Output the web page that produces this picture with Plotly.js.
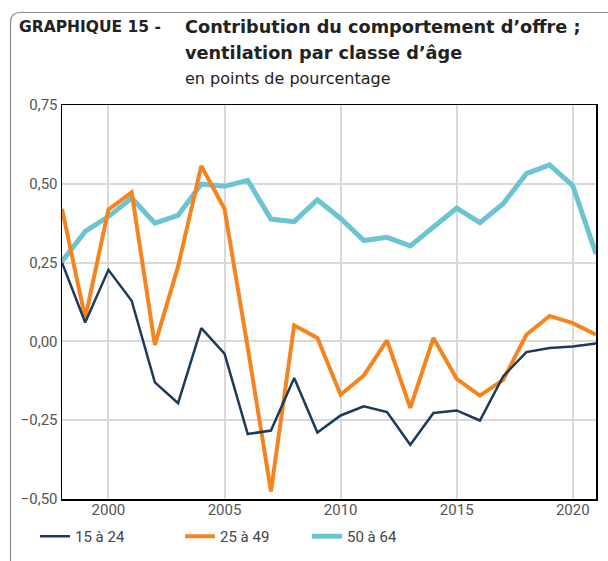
<!DOCTYPE html>
<html>
<head>
<meta charset="utf-8">
<script src="https://cdn.plot.ly/plotly-3.0.1.min.js"></script>
<style>
html,body{margin:0;padding:0;background:#fff;}
#chart{width:608px;height:561px;}
</style>
</head>
<body>
<div id="chart"></div>
<script>
// Data
const years = [1998,1999,2000,2001,2002,2003,2004,2005,2006,2007,2008,2009,2010,2011,2012,2013,2014,2015,2016,2017,2018,2019,2020,2021];
const age15to24 = [0.25,0.06,0.227,0.129,-0.13,-0.196,0.042,-0.039,-0.294,-0.283,-0.116,-0.289,-0.235,-0.206,-0.224,-0.328,-0.227,-0.219,-0.251,-0.111,-0.034,-0.021,-0.016,-0.007];
const age25to49 = [0.42,0.074,0.418,0.473,-0.011,0.238,0.557,0.42,-0.02,-0.476,0.051,0.011,-0.169,-0.108,0.003,-0.211,0.011,-0.119,-0.172,-0.122,0.021,0.081,0.058,0.021];
const age50to64 = [0.254,0.349,0.396,0.455,0.375,0.4,0.499,0.492,0.511,0.388,0.38,0.449,0.39,0.32,0.33,0.303,0.363,0.423,0.377,0.437,0.532,0.56,0.494,0.278];
const seriesNames = ["15 à 24","25 à 49","50 à 64"];
const yTicks = [-0.5,-0.25,0,0.25,0.5,0.75];
const xTicks = [2000,2005,2010,2015,2020];

const colors = ["#1c3a5b","#f5841f","#6cc4d3"];
const widths = [2.5,4,5];
const legends = ["legend","legend2","legend3"];
const data = [age15to24, age25to49, age50to64].map((vals,i)=>({
  x: years, y: vals, type:"scatter", mode:"lines", name: seriesNames[i],
  line:{color:colors[i], width:widths[i]}, legend: legends[i], hoverinfo:"skip"
}));
// draw teal below others
const traces = [data[2], data[1], data[0]];

const L=62, R=596, T=105, B=499;
const px = v => (v-L)/(R-L);
const py = v => (B-v)/(B-T);

const legFont = {family:"Roboto, Liberation Sans, Arial, sans-serif", size:15, color:"#444"};
function leg(x){ return {orientation:"h", x:px(x), y:py(520), xanchor:"left", yanchor:"top", font:legFont, bgcolor:"rgba(0,0,0,0)", itemwidth:30}; }

const titleFam = "DejaVu Sans, Verdana, sans-serif";
const tickFont = {family:"Roboto, Liberation Sans, Arial, sans-serif", size:15, color:"#555"};
const layout = {
  width:608, height:561,
  margin:{l:L, r:608-R, t:T, b:561-B, autoexpand:false},
  paper_bgcolor:"#fff", plot_bgcolor:"#fff",
  separators:",.",
  showlegend:true,
  legend: leg(35), legend2: leg(180), legend3: leg(307),
  xaxis:{range:[1998,2021], tickvals:xTicks, ticks:"", showgrid:true, gridcolor:"#d9d9d9", gridwidth:2,
    showline:true, mirror:true, linecolor:"#000", linewidth:1.5, zeroline:false, automargin:false,
    ticklabelstandoff:-4, tickfont:tickFont},
  yaxis:{range:[-0.5,0.75], tickvals:yTicks, tickformat:".2f", ticks:"", showgrid:true, gridcolor:"#d9d9d9", gridwidth:2,
    showline:true, mirror:true, linecolor:"#000", linewidth:1.5, zeroline:false, automargin:false,
    tickfont:tickFont},
  shapes:[{type:"path", xref:"paper", yref:"paper", layer:"below",
    path:`M ${px(10.5)} ${py(561)} L ${px(10.5)} ${py(22.5)} Q ${px(10.5)} ${py(12.5)} ${px(20.5)} ${py(12.5)} L ${px(610)} ${py(12.5)}`,
    line:{color:"#8c8c8c", width:1.2}}],
  annotations:[
    {text:"<b>GRAPHIQUE 15 -</b>", xref:"paper", yref:"paper", x:px(17), y:py(27), xanchor:"left", yanchor:"middle", showarrow:false,
      font:{family:titleFam, size:15.5, color:"#222"}},
    {text:"<b>Contribution du comportement d’offre ;</b>", xref:"paper", yref:"paper", x:px(183), y:py(27), xanchor:"left", yanchor:"middle", showarrow:false,
      font:{family:titleFam, size:17.7, color:"#222"}},
    {text:"<b>ventilation par classe d’âge</b>", xref:"paper", yref:"paper", x:px(183), y:py(53), xanchor:"left", yanchor:"middle", showarrow:false,
      font:{family:titleFam, size:17.7, color:"#222"}},
    {text:"en points de pourcentage", xref:"paper", yref:"paper", x:px(183), y:py(78), xanchor:"left", yanchor:"middle", showarrow:false,
      font:{family:titleFam, size:16, color:"#222"}}
  ]
};
Plotly.newPlot("chart", traces, layout, {displayModeBar:false, staticPlot:true});
</script>
</body>
</html>
